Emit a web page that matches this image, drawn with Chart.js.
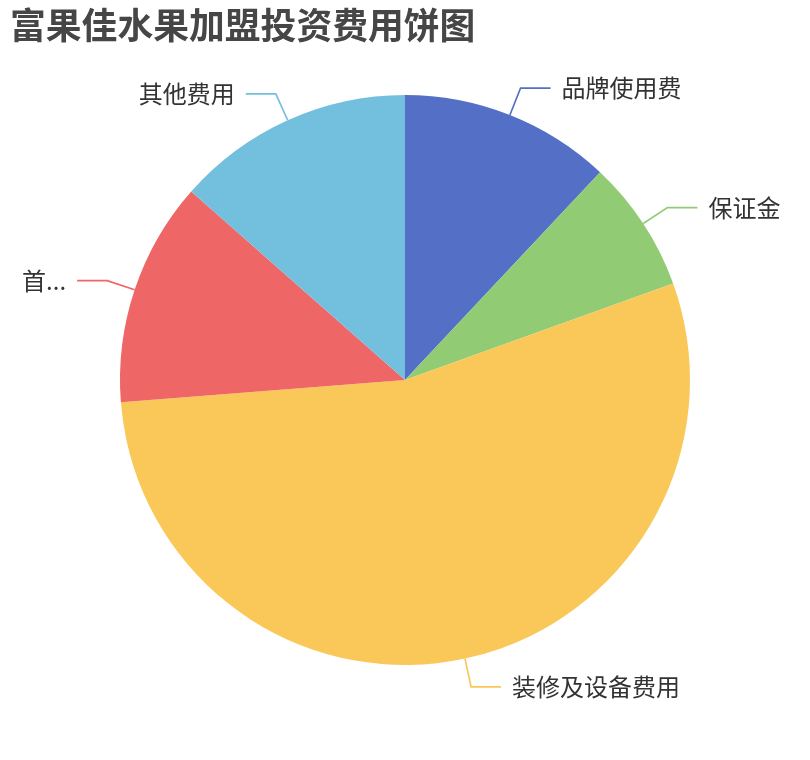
<!DOCTYPE html>
<html>
<head>
<meta charset="utf-8">
<script src="https://cdn.jsdelivr.net/npm/chart.js@4/dist/chart.umd.min.js"></script>
<style>
html,body{margin:0;padding:0;background:#fff;}
#wrap{position:relative;width:810px;height:760px;}
</style>
</head>
<body>
<div id="wrap"><canvas id="c" width="810" height="760"></canvas></div>
<script>
const titleText = '富果佳水果加盟投资费用饼图';
const categories = ['品牌使用费', '保证金', '装修及设备费用', '首批进货费用', '其他费用'];
const values = [4.8, 3, 21.7, 5.1, 5.4];
const colors = ['#5470c6', '#91cc75', '#fac858', '#ee6666', '#73c0de'];

const FONT = '"Noto Sans CJK SC", "Noto Sans", sans-serif';

const labelPlugin = {
  id: 'pieLabels',
  afterDraw(chart) {
    const ctx = chart.ctx;
    ctx.save();
    // title
    ctx.fillStyle = '#464646';
    ctx.font = 'bold 35.8px ' + FONT;
    ctx.textAlign = 'left';
    ctx.textBaseline = 'middle';
    ctx.fillText(titleText, 10, 25.5);

    const meta = chart.getDatasetMeta(0);
    const len1 = 29, len2 = 30, gap = 11, margin = 5;
    ctx.font = '24px ' + FONT;
    meta.data.forEach((arc, i) => {
      const p = arc.getProps(['x', 'y', 'startAngle', 'endAngle', 'outerRadius'], true);
      const mid = (p.startAngle + p.endAngle) / 2;
      const cx = Math.cos(mid), cy = Math.sin(mid);
      const x1 = p.x + p.outerRadius * cx, y1 = p.y + p.outerRadius * cy;
      const x2 = p.x + (p.outerRadius + len1) * cx, y2 = p.y + (p.outerRadius + len1) * cy;
      const right = cx >= 0;
      const x3 = right ? x2 + len2 : x2 - len2;
      ctx.strokeStyle = colors[i];
      ctx.lineWidth = 1.7;
      ctx.beginPath();
      ctx.moveTo(x1, y1);
      ctx.lineTo(x2, y2);
      ctx.lineTo(x3, y2);
      ctx.stroke();

      let text = categories[i];
      const tx = right ? x3 + gap : x3 - gap;
      const avail = right ? chart.width - margin - tx : tx - margin;
      if (ctx.measureText(text).width > avail) {
        let t = text;
        while (t.length > 0 && ctx.measureText(t + '...').width > avail) t = t.slice(0, -1);
        text = t + '...';
      }
      ctx.fillStyle = '#333';
      ctx.textAlign = right ? 'left' : 'right';
      ctx.textBaseline = 'middle';
      ctx.fillText(text, tx, y2);
    });
    ctx.restore();
  }
};

new Chart(document.getElementById('c'), {
  type: 'pie',
  data: {
    labels: categories,
    datasets: [{
      data: values,
      backgroundColor: colors,
      borderWidth: 0,
      hoverOffset: 0
    }]
  },
  options: {
    responsive: false,
    animation: false,
    layout: { padding: { left: 120, right: 120, top: 95, bottom: 95 } },
    plugins: {
      legend: { display: false },
      tooltip: { enabled: false },
      title: { display: false }
    }
  },
  plugins: [labelPlugin]
});
</script>
</body>
</html>
